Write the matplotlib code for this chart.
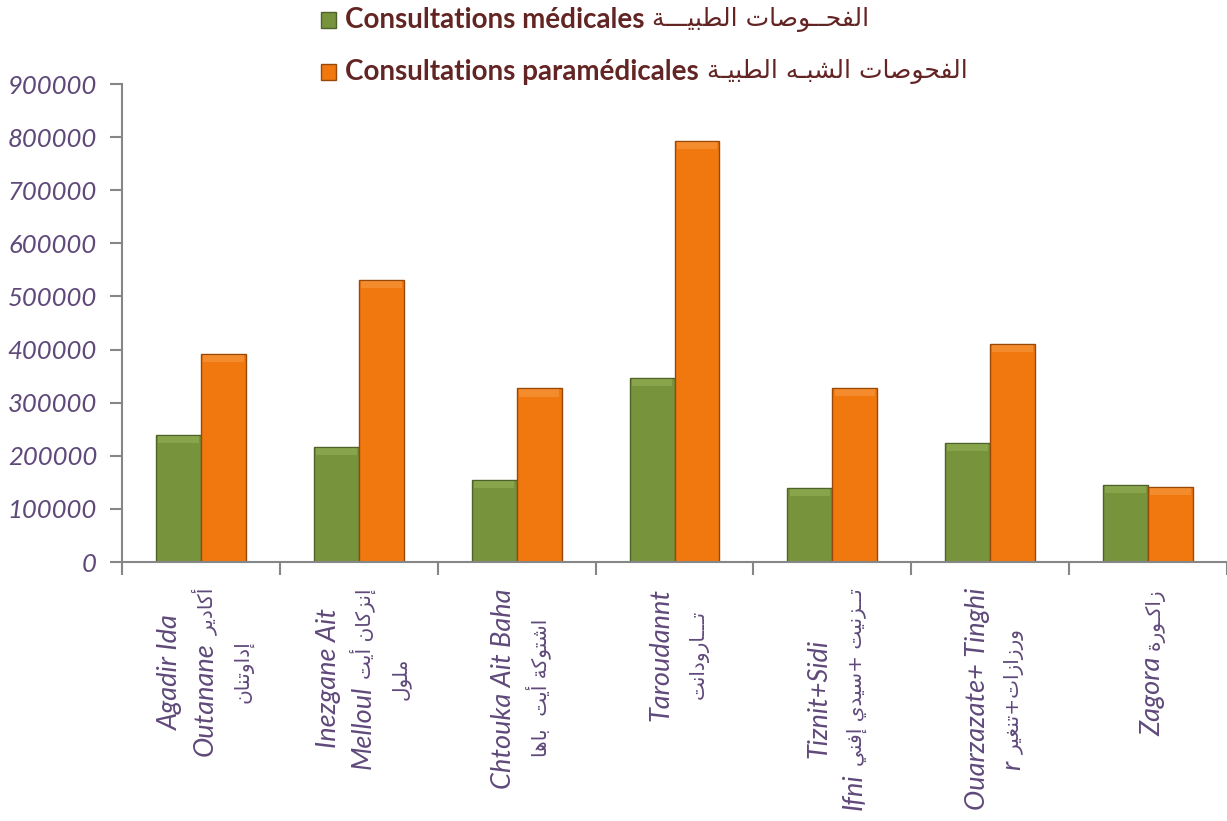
import numpy as np
import matplotlib
matplotlib.use("Agg")
import matplotlib.pyplot as plt
import matplotlib.font_manager as fm
from matplotlib import ft2font
from matplotlib.patches import Rectangle

# ── data ─────────────────────────────────────────────────────────────────────
medical = [239000, 216000, 154000, 346000, 139000, 224000, 145000]
paramedical = [392000, 531000, 327000, 793000, 328000, 410000, 141000]
y_ticks = [0, 100000, 200000, 300000, 400000, 500000, 600000, 700000, 800000, 900000]

# each label: lines, each line: segments (text, is_arabic)
x_labels = [
    [[("Agadir Ida", 0)], [("Outanane", 0), ("أكادير", 1)], [("إداوتنان", 1)]],
    [[("Inezgane Ait", 0)], [("Melloul", 0), ("إنزكان أيت", 1)], [("ملول", 1)]],
    [[("Chtouka Ait Baha", 0)], [("اشتوكة أيت  باها", 1)]],
    [[("Taroudannt", 0)], [("تـــارودانت", 1)]],
    [[("Tiznit+Sidi", 0)], [("Ifni", 0), ("تــزنيت +سيدي إفني", 1)]],
    [[("Ouarzazate+ Tinghi", 0)], [("r", 0), ("ورزازات+تنغير", 1)]],
    [[("Zagora", 0), ("زاكـورة", 1)]],
]
legend_latin = ["Consultations médicales", "Consultations paramédicales"]
legend_arabic = ["الفحــوصات الطبيـــة", "الفحوصات الشبـه الطبيـة"]

# ── simple arabic shaping (presentation forms) + visual order ─────────────────
_AR = [("ء", 0xFE80, 1), ("آ", 0xFE81, 2), ("أ", 0xFE83, 2), ("ؤ", 0xFE85, 2),
       ("إ", 0xFE87, 2), ("ئ", 0xFE89, 4), ("ا", 0xFE8D, 2), ("ب", 0xFE8F, 4),
       ("ة", 0xFE93, 2), ("ت", 0xFE95, 4), ("ث", 0xFE99, 4), ("ج", 0xFE9D, 4),
       ("ح", 0xFEA1, 4), ("خ", 0xFEA5, 4), ("د", 0xFEA9, 2), ("ذ", 0xFEAB, 2),
       ("ر", 0xFEAD, 2), ("ز", 0xFEAF, 2), ("س", 0xFEB1, 4), ("ش", 0xFEB5, 4),
       ("ص", 0xFEB9, 4), ("ض", 0xFEBD, 4), ("ط", 0xFEC1, 4), ("ظ", 0xFEC5, 4),
       ("ع", 0xFEC9, 4), ("غ", 0xFECD, 4), ("ف", 0xFED1, 4), ("ق", 0xFED5, 4),
       ("ك", 0xFED9, 4), ("ل", 0xFEDD, 4), ("م", 0xFEE1, 4), ("ن", 0xFEE5, 4),
       ("ه", 0xFEE9, 4), ("و", 0xFEED, 2), ("ى", 0xFEEF, 2), ("ي", 0xFEF1, 4)]
AR_TABLE = {c: (s, n) for c, s, n in _AR}
TATWEEL = "ـ"


def _dual(c):
    return c == TATWEEL or (c in AR_TABLE and AR_TABLE[c][1] == 4)


def _joinable(c):
    return c == TATWEEL or (c in AR_TABLE and AR_TABLE[c][1] >= 2)


def ar(text):
    out = []
    for i, c in enumerate(text):
        if c not in AR_TABLE:
            out.append(c)
            continue
        start, n = AR_TABLE[c]
        prev = text[i - 1] if i > 0 else ""
        nxt = text[i + 1] if i + 1 < len(text) else ""
        jp = n >= 2 and _dual(prev)
        jn = n == 4 and _joinable(nxt)
        if jp and jn:
            code = start + 3
        elif jp:
            code = start + 1
        elif jn:
            code = start + 2
        else:
            code = start
        out.append(chr(code))
    return "".join(reversed(out))


# ── fonts / colours ──────────────────────────────────────────────────────────
PURPLE = "#5F497A"
DARKRED = "#632523"
GREEN, GREEN_EDGE, GREEN_HI = "#77933C", "#4F6228", "#A6C266"
ORANGE, ORANGE_EDGE, ORANGE_HI = "#F0780F", "#984807", "#FBA85A"
AXIS = "#868686"

fp_ytick = fm.FontProperties(family="Lato", style="italic", size=18.5)
fp_it = fm.FontProperties(family="Lato", style="italic", size=19.5)
_probe = fm.FontProperties(family="DejaVu Sans", style="italic")
_ok = ft2font.FT2Font(fm.findfont(_probe)).get_char_index(0xFEE1) != 0
fp_ar = fm.FontProperties(family="DejaVu Sans", style="italic" if _ok else "normal", size=14.5)
fp_leg = fm.FontProperties(family="Lato", weight="bold", size=20)
fp_leg_ar = fm.FontProperties(family="DejaVu Sans", size=18)

W, H = 1227, 821
fig = plt.figure(figsize=(W / 100, H / 100), dpi=100)
fig.patch.set_facecolor("white")
ax = fig.add_axes([122 / W, 1 - 562 / H, 1 - 122 / W, (562 - 84) / H])

x = np.arange(len(medical))
bw = 0.285
hl = 14000  # top highlight band height (data units)
ax.bar(x - bw / 2, medical, bw, color=GREEN, edgecolor=GREEN_EDGE, linewidth=1, zorder=2)
ax.bar(x + bw / 2, paramedical, bw, color=ORANGE, edgecolor=ORANGE_EDGE, linewidth=1, zorder=2)
ax.bar(x - bw / 2, hl, bw * 0.9, bottom=np.array(medical) - hl * 1.1, color=GREEN_HI,
       alpha=0.4, linewidth=0, zorder=3)
ax.bar(x + bw / 2, hl, bw * 0.9, bottom=np.array(paramedical) - hl * 1.1, color=ORANGE_HI,
       alpha=0.4, linewidth=0, zorder=3)

ax.set_xlim(-0.5, len(medical) - 0.5)
ax.set_ylim(0, 900000)
ax.set_yticks(y_ticks)
ax.set_yticklabels([str(v) for v in y_ticks], fontproperties=fp_ytick, color=PURPLE)
ax.set_xticks([])
ax.set_xticks(np.arange(-0.5, len(medical), 1), minor=True)
ax.tick_params(axis="y", length=9, width=1.5, color=AXIS, pad=9)
ax.tick_params(axis="x", which="minor", length=9, width=1.5, color=AXIS)
for s in ["top", "right"]:
    ax.spines[s].set_visible(False)
for s in ["left", "bottom"]:
    ax.spines[s].set_color(AXIS)
    ax.spines[s].set_linewidth(1.5)

renderer = fig.canvas.get_renderer()


def measure(s, fp):
    t = fig.text(0, 0, s, fontproperties=fp)
    w = t.get_window_extent(renderer).width
    t.remove()
    return w


# ── rotated x labels (mixed latin italic + arabic) ───────────────────────────
spacing = 35
gap = 7
top_px = H - 588
for i, lines in enumerate(x_labels):
    cx = ax.transData.transform((x[i], 0))[0]
    meas = []
    for line in lines:
        segs = []
        for txt, is_ar in line:
            s = ar(txt) if is_ar else txt
            fp = fp_ar if is_ar else fp_it
            segs.append((s, fp, measure(s, fp)))
        meas.append(segs)
    totals = [sum(w for _, _, w in segs) + gap * (len(segs) - 1) for segs in meas]
    yc = top_px - max(totals) / 2
    n = len(lines)
    for j, segs in enumerate(meas):
        xb = cx + (j - (n - 1) / 2) * spacing + 12
        y = yc - totals[j] / 2
        for s, fp, w in segs:
            fig.text(xb / W, y / H, s, fontproperties=fp, color=PURPLE, rotation=90,
                     rotation_mode="anchor", ha="left", va="baseline")
            y += w + gap

# ── legend ───────────────────────────────────────────────────────────────────
leg_y = [H - 20, H - 72]
for j, (lat, arb) in enumerate(zip(legend_latin, legend_arabic)):
    col, edge = (GREEN, GREEN_EDGE) if j == 0 else (ORANGE, ORANGE_EDGE)
    fig.add_artist(Rectangle((321 / W, (leg_y[j] - 8) / H), 15 / W, 16 / H,
                             facecolor=col, edgecolor=edge, linewidth=1,
                             transform=fig.transFigure))
    t = fig.text(345 / W, leg_y[j] / H, lat, fontproperties=fp_leg, color=DARKRED,
                 va="center", ha="left")
    w = t.get_window_extent(renderer).width
    fig.text((345 + w + 8) / W, leg_y[j] / H, ar(arb), fontproperties=fp_leg_ar,
             color=DARKRED, va="center", ha="left")

fig.savefig("out.png", dpi=100, facecolor="white")
